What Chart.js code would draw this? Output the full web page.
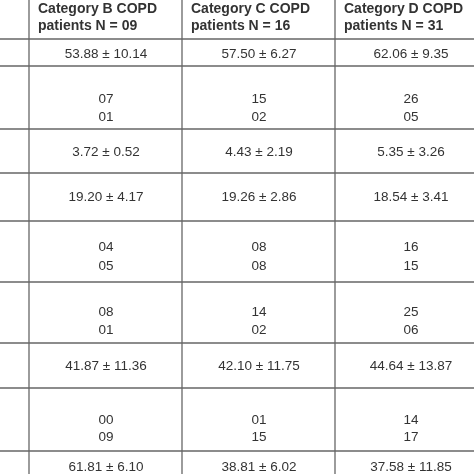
<!DOCTYPE html>
<html>
<head>
<meta charset="utf-8">
<script src="https://cdn.jsdelivr.net/npm/chart.js@4/dist/chart.umd.min.js"></script>
<style>
  html, body { margin: 0; padding: 0; background: #fff; }
  #wrap { width: 474px; height: 474px; }
</style>
</head>
<body>
<div id="wrap"><canvas id="chart"></canvas></div>
<script>
// table content
const headers = [
  ["Category B COPD", "patients N = 09"],
  ["Category C COPD", "patients N = 16"],
  ["Category D COPD", "patients N = 31"]
];
const catB = ["53.88 ± 10.14", "07|01", "3.72 ± 0.52", "19.20 ± 4.17", "04|05", "08|01", "41.87 ± 11.36", "00|09", "61.81 ± 6.10"];
const catC = ["57.50 ± 6.27", "15|02", "4.43 ± 2.19", "19.26 ± 2.86", "08|08", "14|02", "42.10 ± 11.75", "01|15", "38.81 ± 6.02"];
const catD = ["62.06 ± 9.35", "26|05", "5.35 ± 3.26", "18.54 ± 3.41", "16|15", "25|06", "44.64 ± 13.87", "14|17", "37.58 ± 11.85"];

// layout (in chart units, 1 unit = 1 px)
const colLines = [29, 182, 335];
const colCenters = [106, 259, 411];
const rowLines = [39, 66, 129, 173, 221, 282, 343, 388, 451];
const rowTextY = [[54], [99, 117], [152], [197], [247, 266], [312, 330], [366], [420, 437], [467]];

const tablePlugin = {
  id: 'table',
  afterDraw(chart) {
    const { ctx, scales: { x, y } } = chart;
    ctx.save();
    ctx.strokeStyle = '#666';
    ctx.lineWidth = 1.3;
    colLines.forEach(c => {
      ctx.beginPath();
      ctx.moveTo(x.getPixelForValue(c), y.getPixelForValue(0));
      ctx.lineTo(x.getPixelForValue(c), y.getPixelForValue(474));
      ctx.stroke();
    });
    rowLines.forEach(r => {
      ctx.beginPath();
      ctx.moveTo(x.getPixelForValue(0), y.getPixelForValue(r));
      ctx.lineTo(x.getPixelForValue(474), y.getPixelForValue(r));
      ctx.stroke();
    });
    ctx.fillStyle = '#333';
    ctx.textBaseline = 'middle';
    ctx.textAlign = 'left';
    ctx.font = 'bold 14px "Liberation Sans", Arial, sans-serif';
    headers.forEach((h, i) => {
      ctx.fillText(h[0], x.getPixelForValue(colLines[i] + 9), y.getPixelForValue(9));
      ctx.fillText(h[1], x.getPixelForValue(colLines[i] + 9), y.getPixelForValue(26));
    });
    ctx.textAlign = 'center';
    ctx.font = '13.5px "Liberation Sans", Arial, sans-serif';
    [catB, catC, catD].forEach((col, ci) => {
      col.forEach((cell, ri) => {
        cell.split('|').forEach((line, li) => {
          ctx.fillText(line, x.getPixelForValue(colCenters[ci]), y.getPixelForValue(rowTextY[ri][li]));
        });
      });
    });
    ctx.restore();
  }
};

new Chart(document.getElementById('chart'), {
  type: 'scatter',
  data: { datasets: [{ data: [] }] },
  options: {
    responsive: true,
    maintainAspectRatio: false,
    animation: false,
    layout: { padding: 0 },
    plugins: { legend: { display: false }, tooltip: { enabled: false } },
    scales: {
      x: { type: 'linear', min: 0, max: 474, display: false },
      y: { type: 'linear', min: 0, max: 474, reverse: true, display: false }
    }
  },
  plugins: [tablePlugin]
});
</script>
</body>
</html>
